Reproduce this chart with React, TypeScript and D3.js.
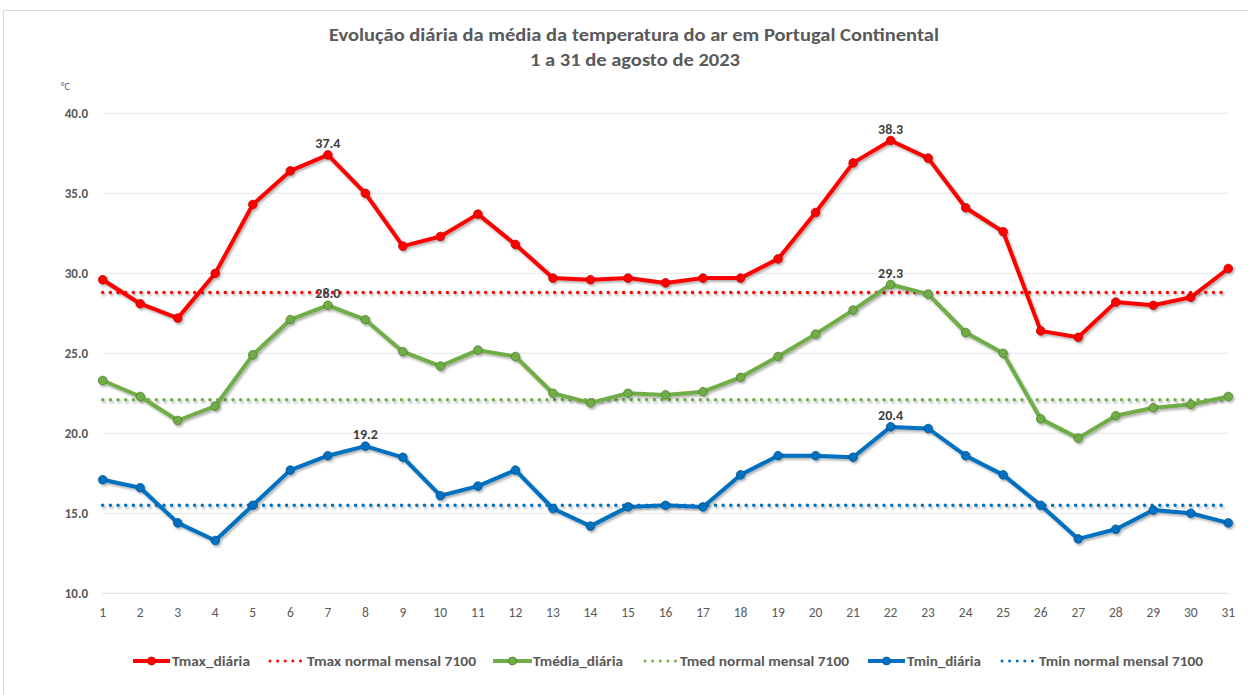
import React from "react";
import * as d3 from "d3";

const days = d3.range(1, 32);
const tmax = [29.6, 28.1, 27.2, 30.0, 34.3, 36.4, 37.4, 35.0, 31.7, 32.3, 33.7, 31.8, 29.7, 29.6, 29.7, 29.4, 29.7, 29.7, 30.9, 33.8, 36.9, 38.3, 37.2, 34.1, 32.6, 26.4, 26.0, 28.2, 28.0, 28.5, 30.3];
const tmed = [23.3, 22.3, 20.8, 21.7, 24.9, 27.1, 28.0, 27.1, 25.1, 24.2, 25.2, 24.8, 22.5, 21.9, 22.5, 22.4, 22.6, 23.5, 24.8, 26.2, 27.7, 29.3, 28.7, 26.3, 25.0, 20.9, 19.7, 21.1, 21.6, 21.8, 22.3];
const tmin = [17.1, 16.6, 14.4, 13.3, 15.5, 17.7, 18.6, 19.2, 18.5, 16.1, 16.7, 17.7, 15.3, 14.2, 15.4, 15.5, 15.4, 17.4, 18.6, 18.6, 18.5, 20.4, 20.3, 18.6, 17.4, 15.5, 13.4, 14.0, 15.2, 15.0, 14.4];
const tmaxNormal = 28.8;
const tmedNormal = 22.1;
const tminNormal = 15.5;
const yTicks = [10, 15, 20, 25, 30, 35, 40];
const labelled = [
  { series: "tmax", day: 7 }, { series: "tmax", day: 22 },
  { series: "tmed", day: 7 }, { series: "tmed", day: 22 },
  { series: "tmin", day: 8 }, { series: "tmin", day: 22 },
];
const title1 = "Evolução diária da média da temperatura do ar em Portugal Continental";
const title2 = "1 a 31 de agosto de 2023";
const legendItems = [
  { label: "Tmax_diária", kind: "line", color: "#FF0000", stroke: "#C00000", x0: 133, x1: 170, tx: 172, tw: 78 },
  { label: "Tmax normal mensal 7100", kind: "dot", color: "#FF0000", stroke: "", x0: 268, x1: 303, tx: 307, tw: 169 },
  { label: "Tmédia_diária", kind: "line", color: "#70AD47", stroke: "#4E7E31", x0: 493, x1: 532, tx: 533, tw: 90 },
  { label: "Tmed normal mensal 7100", kind: "dot", color: "#70AD47", stroke: "", x0: 643, x1: 677, tx: 680, tw: 169 },
  { label: "Tmin_diária", kind: "line", color: "#0070C0", stroke: "#005490", x0: 868, x1: 905, tx: 907, tw: 74 },
  { label: "Tmin normal mensal 7100", kind: "dot", color: "#0070C0", stroke: "", x0: 1000, x1: 1033, tx: 1039, tw: 164 },
];

const FONT = "Carlito, Calibri, 'Open Sans', sans-serif";

export default function App() {
  const x = d3.scaleLinear().domain([1, 31]).range([102.7, 1228.3]);
  const y = d3.scaleLinear().domain([10, 40]).range([593.3, 113.3]);
  const series = [
    { key: "tmax", values: tmax, normal: tmaxNormal, color: "#FF0000", stroke: "#C00000" },
    { key: "tmed", values: tmed, normal: tmedNormal, color: "#70AD47", stroke: "#4E7E31" },
    { key: "tmin", values: tmin, normal: tminNormal, color: "#0070C0", stroke: "#005490" },
  ];
  const line = d3.line<number>().x((_, i) => x(days[i])).y((v) => y(v));
  const [xa, xb] = x.range();

  return (
    <svg width={1248} height={695} style={{ position: "absolute", left: 0, top: 0, background: "#fff" }} fontFamily={FONT}>
      <defs>
        <filter id="sh" filterUnits="userSpaceOnUse" x={0} y={0} width={1248} height={695}>
          <feDropShadow dx="1.5" dy="2" stdDeviation="1.3" floodColor="#000" floodOpacity="0.3" />
        </filter>
      </defs>
      <rect x={0} y={0} width={1248} height={695} fill="#fff" />
      <line x1={3} x2={1248} y1={10.5} y2={10.5} stroke="#d9d9d9" />
      <line x1={3.5} x2={3.5} y1={10.5} y2={695} stroke="#d9d9d9" />

      <text x={634} y={41} textAnchor="middle" fontSize={17} fontWeight="bold" fill="#595959" textLength={610} lengthAdjust="spacingAndGlyphs">{title1}</text>
      <text x={635} y={66} textAnchor="middle" fontSize={17} fontWeight="bold" fill="#595959" textLength={210} lengthAdjust="spacingAndGlyphs">{title2}</text>
      <text x={61} y={90} fontSize={10} fill="#595959">°C</text>

      {yTicks.map((t) => (
        <g key={t}>
          <line x1={xa} x2={xb} y1={y(t)} y2={y(t)} stroke={t === 10 ? "#d9d9d9" : "#e6e6e6"} strokeWidth={1} />
          <text x={88} y={y(t) + 4.5} textAnchor="end" fontSize={13} fontWeight="bold" fill="#595959">{t.toFixed(1)}</text>
        </g>
      ))}
      {days.map((d) => (
        <text key={d} x={x(d)} y={617} textAnchor="middle" fontSize={13.5} fill="#595959">{d}</text>
      ))}

      {series.map((s) => (
        <line key={s.key + "n"} x1={xa} x2={xb} y1={y(s.normal)} y2={y(s.normal)} stroke={s.color} strokeWidth={3.5} strokeLinecap="round" strokeDasharray="0.01 7.65" filter="url(#sh)" />
      ))}
      {series.map((s) => (
        <g key={s.key} filter="url(#sh)">
          <path d={line(s.values) || ""} fill="none" stroke={s.color} strokeWidth={4} strokeLinejoin="round" />
          {s.values.map((v, i) => (
            <circle key={i} cx={x(days[i])} cy={y(v)} r={4.3} fill={s.color} stroke={s.stroke} strokeWidth={0.8} />
          ))}
        </g>
      ))}
      {labelled.map((l) => {
        const s = series.find((q) => q.key === l.series)!;
        const v = s.values[l.day - 1];
        return (
          <text key={l.series + l.day} x={x(l.day)} y={y(v) - 7} textAnchor="middle" fontSize={14} fontWeight="bold" fill="#404040">{v.toFixed(1)}</text>
        );
      })}

      {legendItems.map((it) => (
        <g key={it.label}>
          {it.kind === "line" ? (
            <g>
              <line x1={it.x0} x2={it.x1} y1={661} y2={661} stroke={it.color} strokeWidth={4} />
              <circle cx={(it.x0 + it.x1) / 2} cy={661} r={4} fill={it.color} stroke={it.stroke} strokeWidth={0.8} />
            </g>
          ) : (
            <line x1={it.x0 + 2} x2={it.x1} y1={661} y2={661} stroke={it.color} strokeWidth={3} strokeLinecap="round" strokeDasharray="0.01 7.6" />
          )}
          <text x={it.tx} y={666} fontSize={13} fontWeight="bold" fill="#595959" textLength={it.tw} lengthAdjust="spacingAndGlyphs">{it.label}</text>
        </g>
      ))}
    </svg>
  );
}
